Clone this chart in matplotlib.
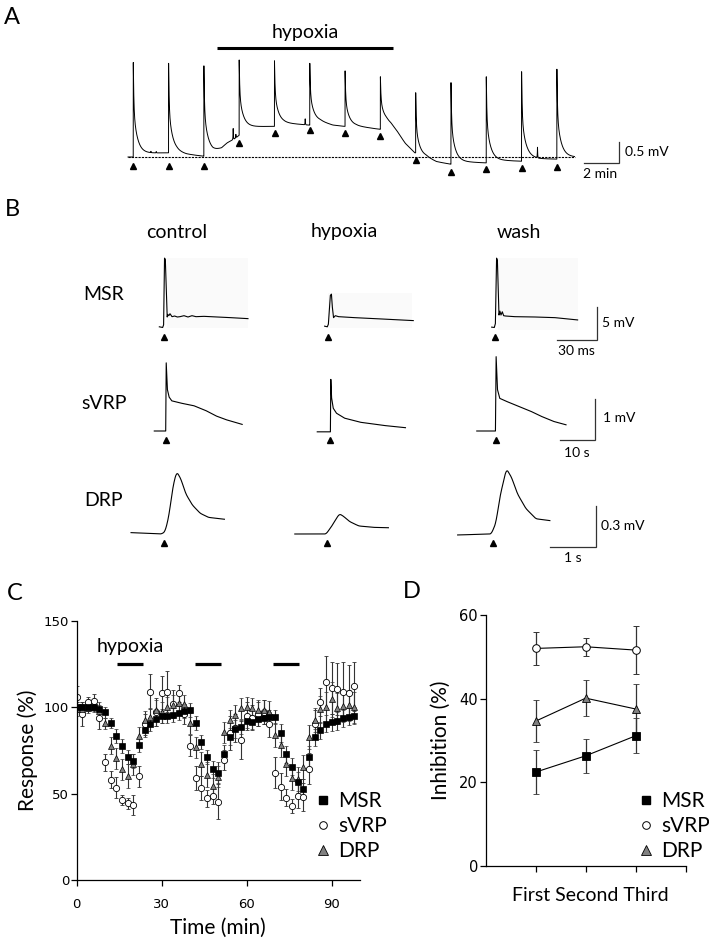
import numpy as np
import matplotlib
matplotlib.use("Agg")
import matplotlib.pyplot as plt
from matplotlib.lines import Line2D
from matplotlib.patches import Rectangle

W, H = 709, 939
TXT = ["Lato", "DejaVu Sans"]
NUM = "DejaVu Sans"

# ---------------- panel A: long recording (min, mV) ----------------
a_spike_t = [0, 2, 4, 6, 8, 10, 12, 14, 16, 18, 20, 22, 24]
a_peak = [2.25, 2.23, 2.17, 2.31, 2.29, 2.23, 2.05, 1.91, 1.53, 1.77, 1.91, 2.03, 2.09]
# slow level after each spike: (minutes after spike, mV)
a_level_t = [[0.5, 1.95], [0.45, 1.0, 1.95], [0.5, 1.0, 1.3, 1.8, 2.0], [0.45, 1.95],
             [0.5, 1.95], [0.6, 1.3, 1.95], [0.6, 1.95], [0.35, 0.6, 0.9, 1.4, 1.95],
             [0.6, 1.17, 1.95], [0.5, 1.95], [0.35, 1.9], [0.35, 1.0, 1.95], [0.4, 1.0]]
a_level_v = [[0.09, 0.10], [0.12, 0.07, 0.02], [0.13, 0.21, 0.33, 0.45, 0.52], [0.72, 0.73],
             [0.81, 0.76], [0.85, 0.76, 0.73], [0.74, 0.66], [0.84, 0.78, 0.64, 0.33, 0.10],
             [0.0, -0.11, -0.17], [-0.11, -0.14], [-0.07, -0.10], [-0.01, -0.04, -0.05], [0.01, 0.0]]
a_blip_t = [1.0, 1.3, 5.66, 5.81, 9.74, 22.9]
a_blip_v = [0.03, 0.03, 0.26, 0.10, 0.14, 0.25]
a_arrow_v = [-0.21, -0.21, -0.21, 0.34, 0.56, 0.64, 0.58, 0.51, -0.07, -0.35, -0.29, -0.25, -0.23]
a_hyp = [4.76, 14.69]

# ---------------- panel B: example sweeps ----------------
cond = ["control", "hypoxia", "wash"]
rows = ["MSR", "sVRP", "DRP"]
# MSR (ms, mV)
msr_t = [[-3.5, -1.0, -0.3, 0.4, 1.0, 2.4, 2.8, 3.6, 4.5, 6, 8, 10, 12, 15, 18, 21, 24, 30, 40, 50, 63],
         [-2.5, -0.5, 0.3, 1.8, 2.6, 3.3, 4.2, 5.5, 8, 20, 40, 64],
         [-2.5, -0.5, 0.3, 1.2, 1.8, 3.0, 3.7, 4.5, 5.5, 6.5, 8, 15, 30, 45, 62]]
msr_v = [[-1.5, -1.6, -1.2, 9.0, 8.8, 0.0, 0.4, 0.2, 0.5, 0.05, 0.15, 0.0, 0.05, 0.2, 0.0, 0.2, 0.05, 0.1, 0.0, -0.1, -0.25],
         [-1.4, -1.5, -1.1, 3.3, 3.5, 1.5, -0.1, 0.2, 0.05, -0.1, -0.3, -0.55],
         [-1.55, -1.6, -1.0, 9.0, 8.7, 0.3, 0.9, 0.3, 0.8, 0.2, 0.15, 0.05, 0.0, -0.1, -0.45]]
msr_box = [(2.25, 63.0, -1.68, 9.0), (0.0, 62.7, -1.7, 3.6), (2.3, 62.3, -2.0, 9.0)]
# sVRP (s, mV)
svrp_t = [[-3.3, 0, 0.15, 0.5, 1.0, 1.77, 4.7, 8.2, 11.7, 14.7, 17.6, 22.1],
          [-3.8, 0, 0.12, 0.35, 0.83, 1.77, 4.13, 8.8, 15.9, 21.7],
          [-5.5, -0.1, 0.1, 0.5, 1.16, 3.3, 6.8, 10.3, 13.3, 16.8, 20.3]]
svrp_v = [[0, 0, 1.65, 1.0, 0.82, 0.73, 0.67, 0.61, 0.49, 0.36, 0.27, 0.16],
          [-0.02, -0.02, 1.25, 0.8, 0.55, 0.43, 0.31, 0.21, 0.13, 0.08],
          [0, 0, 1.8, 1.0, 0.79, 0.71, 0.59, 0.47, 0.35, 0.23, 0.15]]
# DRP (s, mV)
drp_t = [[-0.71, -0.05, 0.03, 0.11, 0.2, 0.28, 0.37, 0.48, 0.62, 0.79, 0.97, 1.32],
         [-0.71, -0.03, 0.09, 0.19, 0.26, 0.34, 0.48, 0.68, 0.99, 1.33],
         [-0.77, -0.04, 0.06, 0.15, 0.29, 0.40, 0.53, 0.71, 0.93, 1.24]]
drp_v = [[0.01, 0, 0.017, 0.125, 0.34, 0.45, 0.40, 0.29, 0.21, 0.15, 0.12, 0.106],
         [0, 0, 0.055, 0.11, 0.145, 0.13, 0.09, 0.058, 0.048, 0.045],
         [-0.007, 0, 0.077, 0.27, 0.47, 0.41, 0.29, 0.185, 0.11, 0.096]]

# ---------------- panel C: time course ----------------
c_time = [0, 2, 4, 6, 8, 10, 12, 14, 16, 18, 20, 22, 24, 26, 28, 30, 32, 34, 36, 38,
          40, 42, 44, 46, 48, 50, 52, 54, 56, 58, 60, 62, 64, 66, 68, 70, 72, 74, 76, 78,
          80, 82, 84, 86, 88, 90, 92, 94, 96, 98]
c_msr = [100, 100, 100, 100, 99, 97, 91, 83.5, 77.7, 71.3, 68.8, 77.9, 86.8, 90, 93, 95, 95, 95.4, 96.8, 98,
         98.3, 91, 79.6, 71.3, 64, 62, 73, 83, 87.3, 88.7, 92, 91.6, 93, 94, 94.5, 94.5, 85, 72.7, 65.5, 56.5,
         52.6, 71.3, 82.5, 86.5, 90.4, 91.2, 92, 93.5, 94.5, 95]
c_msr_err = [3, 2, 2, 2, 2, 3, 3, 4, 4, 4, 4, 4, 4, 4, 4, 4, 4, 4, 4, 4,
             4, 4, 4, 4, 5, 6, 5, 5, 5, 4, 4, 4, 4, 4, 4, 4, 5, 5, 5, 6,
             6, 6, 5, 5, 5, 5, 5, 5, 5, 5]
c_svrp = [106, 96, 102.8, 103.7, 93.5, 68, 58, 53.4, 46.3, 44.3, 43.4, 60, 90, 109, 97, 108, 109, 102, 108, 96,
          77.7, 58.8, 53.4, 47.2, 48.8, 45.3, 69.4, 85, 88, 81, 95, 94, 96, 97, 90, 62, 54, 47.7, 42.6, 48.6,
          48.2, 64.5, 90.5, 103, 114.6, 111.3, 110.3, 109, 108.3, 112]
c_svrp_err = [6, 7, 3, 4, 6, 5, 5, 6, 3, 3, 6, 6, 6, 10, 8, 10, 12, 8, 5, 6,
              6, 7, 7, 5, 5, 10, 6, 10, 8, 11, 8, 7, 7, 7, 7, 9, 8, 5, 4, 7,
              8, 9, 8, 8, 15, 15, 15, 17, 16, 14]
c_drp = [98.7, 98.7, 99.7, 100, 98, 90.6, 77.7, 70.4, 64, 60.3, 67, 83.5, 92.5, 94.5, 98.3, 97, 100, 101, 102.5, 101.8,
         90.6, 76.7, 66.9, 61, 54.4, 59.8, 85.4, 92.5, 95.4, 99.3, 100, 99.3, 98.3, 98.3, 97.4, 83.9, 78, 66.9, 59.2, 58.4,
         65.5, 82.9, 92.5, 98.7, 100, 104.5, 99.3, 100.6, 101, 100]
c_drp_err = [4, 4, 3, 3, 5, 3, 5, 6, 6, 7, 6, 5, 5, 5, 6, 6, 6, 6, 5, 5,
             6, 6, 7, 7, 7, 6, 6, 6, 6, 6, 6, 6, 6, 6, 6, 7, 7, 7, 7, 7,
             7, 7, 7, 8, 9, 10, 9, 9, 9, 9]
c_hyp_start = [14.3, 41.8, 69.2]
c_hyp_end = [23.3, 51.0, 78.4]

# ---------------- panel D: inhibition per episode ----------------
phases = ["First", "Second", "Third"]
d_msr = [22.4, 26.3, 31.1]
d_msr_err = [5.2, 4.0, 4.2]
d_svrp = [52.0, 52.4, 51.6]
d_svrp_err = [3.9, 2.1, 5.7]
d_drp = [34.6, 40.1, 37.5]
d_drp_err = [5.0, 4.3, 6.1]

fig = plt.figure(figsize=(W / 100, H / 100), dpi=100)


def axes_px(left, top, right, bottom):
    return fig.add_axes([left / W, 1 - bottom / H, (right - left) / W, (bottom - top) / H])


def trace_axes(box, origin, scale):
    left, top, right, bottom = box
    ax = axes_px(left, top, right, bottom)
    ax.set_xlim((left - origin[0]) / scale[0], (right - origin[0]) / scale[0])
    ax.set_ylim((origin[1] - bottom) / scale[1], (origin[1] - top) / scale[1])
    ax.axis("off")
    ax.patch.set_visible(False)
    return ax


def px_text(x, y, s, size=14, **kw):
    fig.text(x / W, 1 - y / H, s, fontsize=size, family=TXT, va="center", **kw)


def scale_bar(ax, x_end, y_low, dx, dy):
    ax.plot([x_end - dx, x_end, x_end], [y_low, y_low, y_low + dy], color="#333333", lw=0.9,
            solid_joinstyle="miter")


def smooth(tk, vk, step, win):
    t = np.arange(tk[0], tk[-1], step)
    v = np.interp(t, tk, vk)
    if win > 1:
        vp = np.pad(v, win // 2, mode="edge")
        v = np.convolve(vp, np.ones(win) / win, mode="valid")[:len(t)]
    return t, v


# ---- A ----
axA = trace_axes((115, 15, 700, 190), (133.3, 157), (17.65, 42))
t = np.arange(-0.3, 25.0, 0.004)
v = np.zeros_like(t)
for i, ts in enumerate(a_spike_t):
    nxt = a_spike_t[i + 1] if i + 1 < len(a_spike_t) else 99
    m = (t >= ts) & (t < nxt)
    dt = t[m] - ts
    lvl = np.interp(dt, a_level_t[i], a_level_v[i])
    amp = a_peak[i] - a_level_v[i][0]
    v[m] = lvl + amp * (0.5 * np.exp(-dt / 0.03) + 0.5 * np.exp(-dt / 0.22))
for tb, ab in zip(a_blip_t, a_blip_v):
    v += ab * np.exp(-np.abs(t - tb) / 0.012)
axA.plot(t, v, color="black", lw=0.7)
axA.plot([-0.3, 25.0], [0, 0], color="black", lw=0.8, ls=(0, (2, 1)))
axA.plot(a_spike_t, a_arrow_v, ls="none", marker="^", ms=5, color="black")
axA.plot(a_hyp, [2.59, 2.59], color="black", lw=2.2, solid_capstyle="butt")
axA.text(np.mean(a_hyp), 2.96, "hypoxia", ha="center", va="center", fontsize=14, family=TXT)
scale_bar(axA, 27.54, -0.15, 2, 0.5)
axA.text(27.85, 0.126, "0.5 mV", va="center", fontsize=10, family=TXT)
axA.text(25.5, -0.41, "2 min", va="center", fontsize=10, family=TXT)

# ---- B ----
axM = trace_axes((130, 245, 700, 365), (164, 317), (1.333, 6.54))
axS = trace_axes((130, 350, 700, 465), (165.7, 431), (3.46, 41.3))
axD = trace_axes((110, 460, 700, 575), (163.7, 534), (46, 138.7))
msr_off = [0, 123, 248.3]
svrp_off = [0, 47.6, 95.4]
drp_off = [0, 3.56, 7.16]
for k in range(3):
    t0, t1, v0, v1 = msr_box[k]
    axM.add_patch(Rectangle((msr_off[k] + t0, v0), t1 - t0, v1 - v0, facecolor="#fafafa",
                            edgecolor="none", zorder=0))
    axM.plot(np.array(msr_t[k]) + msr_off[k], msr_v[k], color="black", lw=0.8)
    axM.plot([msr_off[k]], [-3.1], marker="^", ms=5, color="black")
    axS.plot(np.array(svrp_t[k]) + svrp_off[k], svrp_v[k], color="black", lw=0.8)
    axS.plot([svrp_off[k]], [-0.22], marker="^", ms=5, color="black")
    ts_, vs_ = smooth(drp_t[k], drp_v[k], 0.005, 15)
    axD.plot(ts_ + drp_off[k], vs_, color="black", lw=0.8)
    axD.plot([drp_off[k]], [-0.067], marker="^", ms=5, color="black")

scale_bar(axM, 324.6, -3.52, 30, 5)
axM.text(328.3, -0.96, "5 mV", va="center", fontsize=10, family=TXT)
axM.text(309.4, -5.15, "30 ms", va="center", ha="center", fontsize=10, family=TXT)
scale_bar(axS, 124.0, -0.23, 10, 1)
axS.text(126.3, 0.31, "1 mV", va="center", fontsize=10, family=TXT)
axS.text(118.9, -0.53, "10 s", va="center", ha="center", fontsize=10, family=TXT)
scale_bar(axD, 9.39, -0.096, 1, 0.3)
axD.text(9.5, 0.058, "0.3 mV", va="center", fontsize=10, family=TXT)
axD.text(8.9, -0.175, "1 s", va="center", ha="center", fontsize=10, family=TXT)

for x, s in zip([176.3, 344.6, 519], cond):
    px_text(x, 232, s, ha="center")
for y, s in zip([295, 403.3, 500], rows):
    px_text(104, y, s, ha="center")

# panel letters
for x, y, s in [(12, 17, "A"), (12, 209, "B"), (15, 593, "C"), (412, 592, "D")]:
    px_text(x, y, s, size=17, ha="center")

# ---- C ----
axC = axes_px(76.7, 620.7, 360, 880)
ebk = dict(ecolor="#333333", elinewidth=0.8, capsize=1.6, capthick=0.8, ls="none")
axC.errorbar(c_time, c_svrp, yerr=c_svrp_err, marker="o", ms=4.5, mfc="white", mec="black",
             mew=0.6, **ebk)
axC.errorbar(c_time, c_drp, yerr=c_drp_err, marker="^", ms=4.5, mfc="#808080", mec="black",
             mew=0.5, **ebk)
axC.errorbar(c_time, c_msr, yerr=c_msr_err, marker="s", ms=4.6, mfc="black", mec="black",
             mew=0.5, **ebk)
for s0, s1 in zip(c_hyp_start, c_hyp_end):
    axC.plot([s0, s1], [125, 125], color="black", lw=2.3, solid_capstyle="butt")
axC.text(7, 135, "hypoxia", va="center", fontsize=14, family=TXT)
axC.set_xlim(0, 100)
axC.set_ylim(0, 150)
axC.set_xticks([0, 30, 60, 90])
axC.set_yticks([0, 50, 100, 150])
axC.set_xlabel("Time (min)", fontsize=15, family=TXT, labelpad=5)
axC.set_ylabel("Response (%)", fontsize=15, family=TXT, labelpad=4)

# ---- D ----
axDd = axes_px(485.7, 615, 685.7, 865.7)
x_d = [1, 2, 3]
ebd = dict(color="black", lw=0.8, ecolor="#333333", elinewidth=0.9, capsize=2, capthick=0.9)
axDd.errorbar(x_d, d_svrp, yerr=d_svrp_err, marker="o", ms=5.5, mfc="white", mec="black",
              mew=0.7, **ebd)
axDd.errorbar(x_d, d_drp, yerr=d_drp_err, marker="^", ms=6, mfc="#808080", mec="black",
              mew=0.6, **ebd)
axDd.errorbar(x_d, d_msr, yerr=d_msr_err, marker="s", ms=6, mfc="black", mec="black",
              mew=0.6, **ebd)
axDd.set_xlim(0, 4)
axDd.set_ylim(0, 60)
axDd.set_xticks([1, 2, 3, 4])
axDd.set_xticklabels([])
axDd.set_yticks([0, 20, 40, 60])
axDd.text(2.09, -0.12, " ".join(phases), transform=axDd.get_xaxis_transform(),
          ha="center", va="center", fontsize=14, family=TXT)
axDd.set_ylabel("Inhibition (%)", fontsize=15, family=TXT, labelpad=6)

for ax, lsz in ((axC, 9.5), (axDd, 10.5)):
    for sp in ("top", "right"):
        ax.spines[sp].set_visible(False)
    for sp in ("left", "bottom"):
        ax.spines[sp].set_linewidth(0.9)
    ax.tick_params(direction="out", length=4, width=0.9, labelsize=lsz)
    ax.tick_params(axis="y", pad=1.5)
    ax.tick_params(axis="x", pad=9)
    for lab in ax.get_xticklabels() + ax.get_yticklabels():
        lab.set_family(NUM)

handles = [Line2D([], [], ls="none", marker="s", ms=6, mfc="black", mec="black"),
           Line2D([], [], ls="none", marker="o", ms=5.5, mfc="white", mec="black", mew=0.7),
           Line2D([], [], ls="none", marker="^", ms=6.5, mfc="#808080", mec="black", mew=0.6)]
for ax, x, y in [(axC, 315, 791), (axDd, 638, 791)]:
    leg = ax.legend(handles, rows, loc="upper left", bbox_to_anchor=(x / W, 1 - y / H),
                    bbox_transform=fig.transFigure, frameon=False, handlelength=0.8,
                    handletextpad=0.3, labelspacing=0.25, borderpad=0, borderaxespad=0,
                    prop={"family": TXT, "size": 15})

fig.savefig("out.png", dpi=100)
